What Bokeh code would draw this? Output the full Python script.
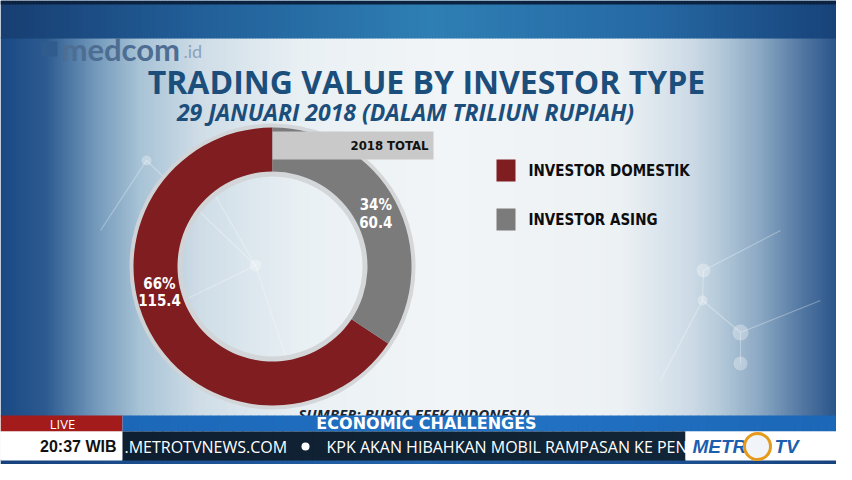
import numpy as np
from bokeh.plotting import figure
from bokeh.models import Range1d, ColumnDataSource
from bokeh.core.properties import value
from bokeh.embed import file_html
from bokeh.resources import INLINE

# ---------------- data ----------------
categories = ["INVESTOR DOMESTIK", "INVESTOR ASING"]
values = [115.4, 60.4]
percents = [66, 34]
title_text = "TRADING VALUE BY INVESTOR TYPE"
subtitle_text = "29 JANUARI 2018 (DALAM TRILIUN RUPIAH)"
total_label = "2018 TOTAL"
source_note = "SUMBER: BURSA EFEK INDONESIA"
brand_text = "medcom"
brand_suffix = ".id"
live_text = "LIVE"
topic_text = "ECONOMIC CHALLENGES"
clock_text = "20:37 WIB"
ticker_site = ".METROTVNEWS.COM"
ticker_news = "KPK AKAN HIBAHKAN MOBIL RAMPASAN KE PEN"

# ---------------- styles ----------------
slice_colors = ["#7f1d20", "#7b7b7b"]
label_angles_deg = [193, 27]
W, H = 852, 480
NARROW = value("'DejaVu Sans Condensed', 'Roboto Condensed', Roboto")
SANS = value("Open Sans")


def Y(y):
    return H - y


p = figure(width=836, height=464, x_range=Range1d(0, 836), y_range=Range1d(H - 464, H),
           output_backend="svg", toolbar_location=None,
           x_axis_location=None, y_axis_location=None, min_border=0)
p.grid.visible = False
p.outline_line_color = None
p.background_fill_color = "#eef3f6"
p.border_fill_color = "#eef3f6"


def hexrgb(h):
    h = h.lstrip("#")
    return [int(h[i:i + 2], 16) for i in (0, 2, 4)]


def hgrad(x0, x1, y0, y1, stops, step=3):
    xs = np.arange(x0, x1, step, dtype=float)
    sx = [s[0] for s in stops]
    rgb = np.array([hexrgb(s[1]) for s in stops], dtype=float)
    cols = []
    for x in xs + step / 2:
        c = [int(round(np.interp(x, sx, rgb[:, k]))) for k in range(3)]
        cols.append("#%02x%02x%02x" % tuple(c))
    p.quad(left=xs, right=np.minimum(xs + step + 0.6, x1), bottom=Y(y1), top=Y(y0),
           fill_color=cols, line_color=None)


# background
hgrad(0, W, 37, 416, [(0, "#1a4884"), (45, "#2c5a90"), (95, "#7399bb"), (140, "#a8c3d6"),
                      (200, "#cfdde7"), (300, "#e9f0f4"), (450, "#f2f5f7"), (620, "#ecf1f4"),
                      (690, "#cddbe6"), (720, "#b4c9d9"), (760, "#8aa7c3"), (800, "#5479a3"),
                      (845, "#1f4b83"), (852, "#143a6a")])
hgrad(0, W, 0, 38, [(0, "#173e72"), (200, "#225f99"), (430, "#2e7fb4"), (650, "#2669a4"),
                    (852, "#163f76")])
p.quad(left=0, right=W, bottom=Y(4), top=Y(0), fill_color="#0b2340", line_color=None)
hgrad(0, W, 459, 480, [(0, "#17417c"), (420, "#2465ac"), (852, "#17417c")], step=6)

# faint network decoration
seg_x0 = [255, 255, 255, 255, 146, 703, 703, 702, 740, 740, 702]
seg_y0 = [265, 265, 265, 265, 160, 270, 270, 300, 332, 332, 300]
seg_x1 = [213, 187, 300, 146, 100, 702, 780, 740, 740, 820, 660]
seg_y1 = [192, 298, 400, 160, 230, 300, 230, 332, 363, 300, 380]
p.segment(x0=seg_x0, y0=[Y(v) for v in seg_y0], x1=seg_x1, y1=[Y(v) for v in seg_y1],
          line_color="white", line_alpha=0.3, line_width=1.2)
p.scatter(x=[255, 146, 703, 702, 740, 740], y=[Y(v) for v in [265, 160, 270, 300, 332, 363]],
          size=[12, 10, 14, 10, 16, 14], fill_color="white", fill_alpha=0.3, line_color=None)

# medcom brand
p.quad(left=41, right=57, bottom=Y(56), top=Y(41), fill_color="#2f5c8c", line_color=None)
p.text(x=[61], y=[Y(48)], text=[brand_text], text_font=value("Lato"), text_font_style="bold",
       text_font_size="31px", text_color="#4d6d92", text_baseline="middle", text_align="left")
p.text(x=[183], y=[Y(50)], text=[brand_suffix], text_font=value("Lato"),
       text_font_size="18px", text_color="#8aa2bb", text_baseline="middle", text_align="left")

# titles
p.text(x=[426], y=[Y(81)], text=[title_text], text_font=SANS, text_font_style="bold",
       text_font_size="32px", text_color="#1c4e7c", text_align="center", text_baseline="middle")
p.text(x=[405], y=[Y(111)], text=[subtitle_text], text_font=SANS, text_font_style="bold italic",
       text_font_size="23px", text_color="#1c4e7c", text_align="center", text_baseline="middle")

# donut
cx, cy = 272, 266
total = sum(values)
fr = np.array(values) / total
ends = np.pi / 2 + np.cumsum(fr) * 2 * np.pi
starts = ends - fr * 2 * np.pi
p.annulus(x=[cx], y=[Y(cy)], inner_radius=90, outer_radius=143,
          fill_color="#d2d4d6", fill_alpha=0.9, line_color=None)
src = ColumnDataSource(dict(start=starts, end=ends, color=slice_colors, cat=categories))
p.annular_wedge(x=cx, y=Y(cy), inner_radius=95, outer_radius=139, start_angle="start",
                end_angle="end", fill_color="color", line_color=None, source=src)

# total tag
p.quad(left=cx, right=433, bottom=Y(159), top=Y(131), fill_color="#c9c9c9", line_color=None)
p.text(x=[428], y=[Y(145)], text=[total_label], text_font=NARROW, text_font_style="bold",
       text_font_size="13px", text_color="#111111", text_align="right", text_baseline="middle")

# slice labels
lab_r = 116
la = np.radians(label_angles_deg)
lx = cx + lab_r * np.cos(la)
ly = Y(cy) + lab_r * np.sin(la)
labels = ["%d%%\n%.1f" % (pc, v) for pc, v in zip(percents, values)]
p.text(x=lx, y=ly, text=labels, text_font=NARROW, text_font_style="bold",
       text_font_size="15px", text_color="white", text_align="center",
       text_baseline="middle", text_line_height=0.98)

# legend
leg_y = [Y(170), Y(219)]
p.rect(x=[505.5] * 2, y=leg_y, width=19, height=22, fill_color=slice_colors, line_color=None)
p.text(x=[528] * 2, y=leg_y, text=categories, text_font=NARROW, text_font_style="bold",
       text_font_size="15px", text_color="#0d0d0d", text_align="left", text_baseline="middle")

# source
p.text(x=[414], y=[Y(413)], text=[source_note], text_font=SANS, text_font_style="bold italic",
       text_font_size="15px", text_color="#1a2633", text_align="center", text_baseline="middle")

# lower third
p.quad(left=0, right=122, bottom=Y(431), top=Y(415), fill_color="#a31b1b", line_color=None)
hgrad(122, 849, 415, 431, [(122, "#1c67b8"), (500, "#2272c4"), (849, "#1c66b6")], step=8)
p.quad(left=0, right=122, bottom=Y(460), top=Y(431), fill_color="#ffffff", line_color=None)
hgrad(122, 685, 431, 460, [(122, "#0e1f31"), (685, "#102537")], step=10)
p.text(x=[62], y=[Y(423)], text=[live_text], text_font=SANS, text_font_size="13px",
       text_color="white", text_align="center", text_baseline="middle")
p.text(x=[426], y=[Y(423)], text=[topic_text], text_font=value("DejaVu Sans"),
       text_font_style="bold", text_font_size="16px", text_color="white",
       text_align="center", text_baseline="middle")
p.text(x=[116], y=[Y(446)], text=[clock_text], text_font=value("Liberation Sans"),
       text_font_style="bold", text_font_size="16px", text_color="#111111",
       text_align="right", text_baseline="middle")
p.text(x=[124], y=[Y(446)], text=[ticker_site], text_font=SANS, text_font_size="16px",
       text_color="white", text_align="left", text_baseline="middle")
p.scatter(x=[305], y=[Y(446)], size=8, fill_color="white", line_color=None)
p.text(x=[326], y=[Y(446)], text=[ticker_news], text_font=SANS, text_font_size="16px",
       text_color="white", text_align="left", text_baseline="middle")
p.quad(left=685, right=849, bottom=Y(460), top=Y(431), fill_color="#ffffff", line_color=None)
p.text(x=[692], y=[Y(446)], text=["METR"], text_font=value("Liberation Sans"),
       text_font_style="bold italic", text_font_size="19px", text_color="#1b5fae",
       text_align="left", text_baseline="middle")
p.scatter(x=[757], y=[Y(446)], size=26, fill_color="#f1f4f8", line_color="#e59a1c", line_width=3)
p.text(x=[774], y=[Y(446)], text=["TV"], text_font=value("Liberation Sans"),
       text_font_style="bold italic", text_font_size="19px", text_color="#1b5fae",
       text_align="left", text_baseline="middle")

open("out.html", "w").write(file_html(p, INLINE))
